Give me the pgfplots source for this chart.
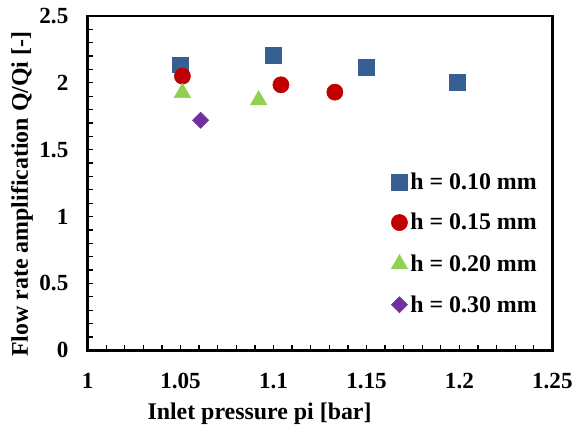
\documentclass[border=0pt]{standalone}
\usepackage{fontspec}
\setmainfont{Liberation Serif}
\usepackage{pgfplots}
\pgfplotsset{compat=1.18}
\definecolor{cblue}{HTML}{376092}
\definecolor{cred}{HTML}{C00000}
\definecolor{cgreen}{HTML}{92D050}
\definecolor{cpurple}{HTML}{7030A0}
\begin{document}
\begin{tikzpicture}
\begin{axis}[
  at={(0,0)}, anchor=south west,
  scale only axis, width=350.25pt, height=252pt,
  xmin=1, xmax=1.25, ymin=0, ymax=2.5,
  xtick={1,1.05,1.1,1.15,1.2,1.25},
  xticklabels={1,1.05,1.1,1.15,1.2,1.25},
  ytick={0,0.5,1,1.5,2,2.5},
  yticklabels={0,0.5,1,1.5,2,2.5},
  minor x tick num=4, minor y tick num=4,
  xtick pos=bottom, ytick pos=left,
  tick align=inside, major tick length=4pt, minor tick length=4pt,
  axis line style={line width=1.8pt},
  tick style={black, line width=1pt},
  ticklabel style={font=\fontsize{17.4}{20}\selectfont\bfseries},
  xticklabel style={yshift=-14pt},
  yticklabel style={xshift=-11pt},
  /pgf/number format/assume math mode=true,
  xlabel={Inlet pressure pi [bar]},
  ylabel={Flow rate amplification Q/Qi [-]},
  label style={font=\fontsize{18}{21}\selectfont\bfseries},
  xlabel style={at={(axis description cs:0.37,0)}, anchor=north, yshift=-36pt},
  ylabel style={at={(axis description cs:-0.1413,0.467)}, anchor=center},
  legend style={draw=none, fill=none, at={(axis cs:1.161,1.345)}, anchor=north west,
    font=\fontsize{18}{21}\selectfont\bfseries,
    nodes={inner ysep=0pt, text height=12pt, text depth=4pt},
    row sep=14.6pt},
  legend cell align=left,
  legend image code/.code={\draw[mark repeat=2,mark phase=2,#1] plot coordinates {(0cm,1.5pt)(0.2cm,1.5pt)(0.4cm,1.5pt)};},
]
\addplot[only marks, mark=square*, mark size=6pt, color=cblue, mark options={line width=0.4pt}]
  coordinates {(1.05,2.135) (1.10,2.205) (1.15,2.115) (1.199,2.005)};
\addlegendentry{h = 0.10 mm}
\addplot[only marks, mark=*, mark size=6.1pt, color=cred, mark options={line width=0.4pt}]
  coordinates {(1.051,2.05) (1.104,1.985) (1.133,1.93)};
\addlegendentry{h = 0.15 mm}
\addplot[only marks, mark=triangle*, mark size=7.2pt, color=cgreen, mark options={line width=0.4pt}]
  coordinates {(1.051,1.925) (1.092,1.87)};
\addlegendentry{h = 0.20 mm}
\addplot[only marks, mark=square*, mark size=4.3pt, color=cpurple, mark options={rotate=45, line width=0.4pt}]
  coordinates {(1.0608,1.72)};
\addlegendentry{h = 0.30 mm}
\end{axis}
\path[use as bounding box] (-66pt,-58.5pt) rectangle (366.75pt,264pt);
\end{tikzpicture}
\end{document}
